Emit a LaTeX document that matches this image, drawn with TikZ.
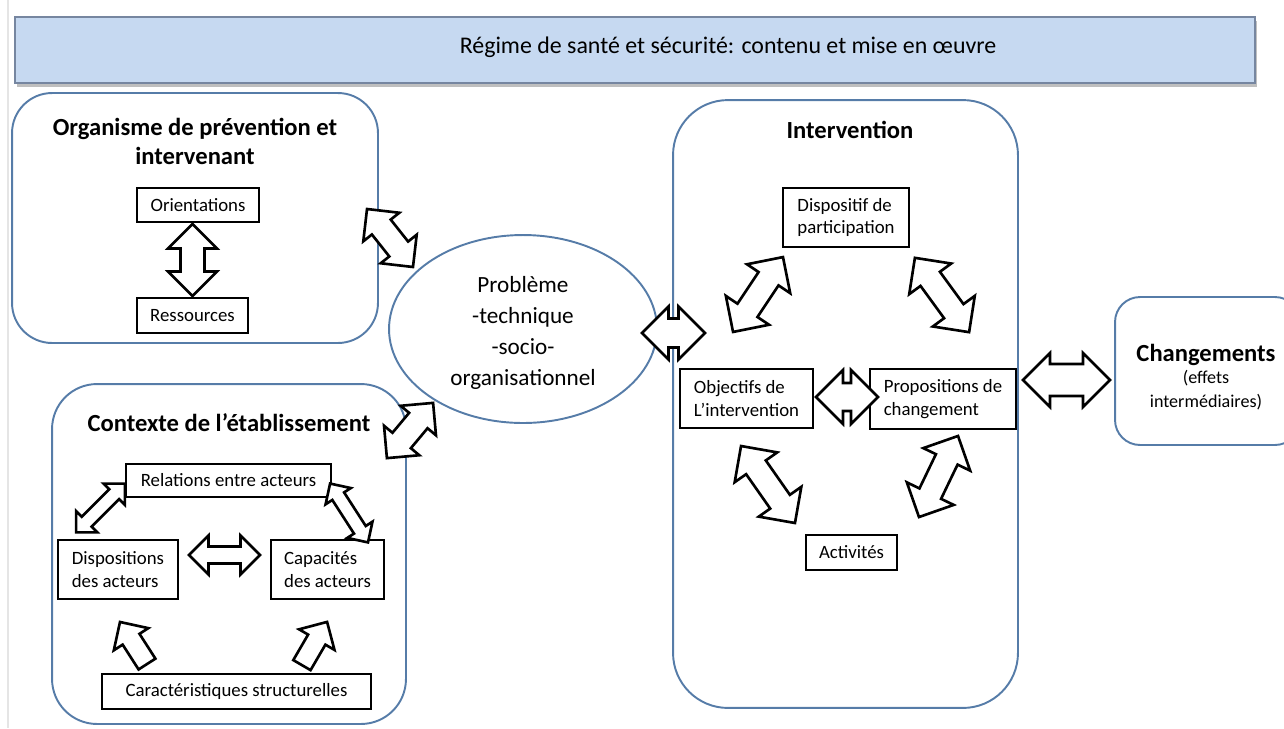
\documentclass[tikz,border=0pt]{standalone}
\usepackage{fontspec}
\setmainfont{Carlito}
\usetikzlibrary{shapes.geometric,positioning,calc,shadows}
\definecolor{boxblue}{RGB}{86,124,168}
\definecolor{bannerblue}{RGB}{198,217,241}
\definecolor{bannerline}{RGB}{118,134,160}

\tikzset{
    arrowline/.style={draw=black, line width=1.5pt, fill=white, line join=miter},
    % double block arrow: half length, half shaft, half head
    pics/dblarrow/.style n args={3}{code={
        \draw[arrowline] (-#1,0) -- (-#1+#3,#3) -- (-#1+#3,#2) -- (#1-#3,#2) -- (#1-#3,#3) -- (#1,0)
            -- (#1-#3,-#3) -- (#1-#3,-#2) -- (-#1+#3,-#2) -- (-#1+#3,-#3) -- cycle;
    }},
    % single block arrow, tip on +x
    pics/onearrow/.style n args={3}{code={
        \draw[arrowline] (-#1,-#2) -- (#1-#3,-#2) -- (#1-#3,-#3) -- (#1,0) -- (#1-#3,#3) -- (#1-#3,#2)
            -- (-#1,#2) -- cycle;
    }}
}

\begin{document}
\begin{tikzpicture}[x=0.02cm, y=-0.02cm,
    bluebox/.style={rectangle, draw=boxblue, line width=1.1pt, rounded corners=0.8cm},
    smallbox/.style={rectangle, draw=black, line width=1.2pt, fill=white, inner sep=0.1cm, font=\fontsize{10.7}{13}\selectfont},
    title/.style={font=\fontsize{14}{16.5}\selectfont\bfseries, align=center},
    slim/.style={line width=1.3pt}
]
\path[use as bounding box, clip] (0,0) rectangle (1284,728);
\draw[gray!20, line width=1pt] (8,0) -- (8,728);

% Banner
\node[rectangle, fill=bannerblue, draw=bannerline, line width=1.5pt, minimum width=24.8cm, minimum height=1.32cm,
      drop shadow={shadow xshift=0.04cm, shadow yshift=-0.08cm, opacity=0.5}] (banner) at (635,50) {};
\node[font=\fontsize{13.6}{16}\selectfont] (bannertext) at (728,47) {Régime de santé et sécurité: contenu et mise en œuvre};

% Organisme de prevention
\node[bluebox, minimum width=7.32cm, minimum height=5cm] (org) at (195,218) {};
\node[title] (orgtitle) at (195,141) {Organisme de prévention et\\intervenant};
\node[smallbox, minimum width=2.44cm, minimum height=0.68cm] (orient) at (198,205) {Orientations};
\node[smallbox, minimum width=2.22cm, minimum height=0.7cm] (ress) at (192.5,315.5) {Ressources};

% Probleme
\node[ellipse, draw=boxblue, line width=1.1pt, minimum width=5.36cm, minimum height=3.76cm, align=center,
      font=\fontsize{13.2}{17.6}\selectfont] (prob) at (523,329) {};
\node[align=center, font=\fontsize{13.2}{17.6}\selectfont] (probtext) at (523,333) {Problème\\-technique\\-socio-\\organisationnel};

% Contexte de l'etablissement
\node[bluebox, rounded corners=0.9cm, minimum width=7.08cm, minimum height=6.8cm] (ctx) at (229,554) {};
\node[title] (ctxtitle) at (229,423) {Contexte de l’établissement};
\node[smallbox, minimum width=4.1cm, minimum height=0.66cm] (rel) at (228.5,480.5) {Relations entre acteurs};
\node[smallbox, minimum width=2.4cm, minimum height=1.18cm, align=left] (dispo) at (118,569.5) {Dispositions\\des acteurs};
\node[smallbox, minimum width=2.26cm, minimum height=1.18cm, align=left] (capa) at (327.5,569.5) {Capacités\\des acteurs};
\node[smallbox, minimum width=5.38cm, minimum height=0.7cm] (carac) at (236.5,691.5) {Caractéristiques structurelles};

% Intervention
\node[bluebox, rounded corners=1.1cm, minimum width=6.9cm, minimum height=12.16cm] (interv) at (845.5,404) {};
\node[title] (intervtitle) at (850,130) {Intervention};
\node[smallbox, minimum width=2.52cm, minimum height=1.18cm, align=left] (disp) at (846,217.5) {Dispositif de\\participation};
\node[smallbox, minimum width=2.66cm, minimum height=1.18cm, align=left] (obj) at (746.5,398.5) {Objectifs de\\L’intervention};
\node[smallbox, minimum width=2.92cm, minimum height=1.2cm, align=left] (prop) at (943,399) {Propositions de\\changement};
\node[smallbox, minimum width=1.82cm, minimum height=0.7cm] (act) at (851.5,552.5) {Activités};

% Changements
\node[bluebox, rounded corners=0.5cm, minimum width=3.7cm, minimum height=2.96cm] (chg) at (1207.5,371) {};
\node[title] (chgtitle) at (1206,355) {Changements};
\node[align=center, font=\fontsize{10.3}{13.6}\selectfont] (chgnote) at (1206,390) {(effets\\intermédiaires)};

% Block arrows
\path (ress.north |- orient.south) -- (ress.north) pic[pos=0.5, rotate=90] {dblarrow={36}{12}{24.5}};
\path ($(org)+(172,-9)$) -- ($(prob)+(-110,-62)$) pic[pos=0.5, rotate=-51.6] {dblarrow={37}{12}{23}};
\path ($(prob.east)+(-15,4)$) -- ($(interv.west)+(32,-71)$) pic[pos=0.5] {dblarrow={31.5}{14.5}{26.5}};
\path ($(ctx)+(158,-96)$) -- ($(prob)+(-90,74)$) pic[pos=0.5, rotate=50.1] {dblarrow={36}{12}{23}};
\path ($(rel.west)+(0,3.5)$) -- ($(dispo.north west)+(19,-7)$) pic[pos=0.5, rotate=45, slim] {dblarrow={34.5}{7}{15}};
\path ($(rel.east)+(-2,3.5)$) -- ($(capa.north east)+(-17,3)$) pic[pos=0.5, rotate=-57.2, slim] {dblarrow={35}{7}{15}};
\path ($(dispo.east)+(11,-14.5)$) -- ($(capa.west)+(-11,-14.5)$) pic[pos=0.5] {dblarrow={35.5}{8.5}{19.5}};
\path ($(carac.north)+(-89.5,-10)$) -- ($(dispo.south)+(2,23)$) pic[pos=0.5, rotate=122.7] {onearrow={25}{10}{20.5}};
\path ($(carac.north)+(65.5,-9)$) -- ($(capa.south)+(-0.5,23)$) pic[pos=0.5, rotate=59.8] {onearrow={25}{10}{20.5}};
\path ($(obj.north)+(-13.5,-37)$) -- ($(disp.south)+(-63,10)$) pic[pos=0.5, rotate=56.3] {dblarrow={45}{12}{26}};
\path ($(disp.south)+(69,11)$) -- ($(prop.north)+(26,-37)$) pic[pos=0.5, rotate=-53.9] {dblarrow={46}{12}{26}};
\path ($(obj.south)+(-5.5,18)$) -- ($(act.north)+(-56.5,-12)$) pic[pos=0.5, rotate=-55] {dblarrow={47}{12}{26}};
\path ($(prop.south)+(15,7)$) -- ($(act.north)+(67.5,-18)$) pic[pos=0.5, rotate=64.3] {dblarrow={45}{12}{26}};
\path ($(obj.east)+(3,-1.5)$) -- ($(prop.west)+(8,-2)$) pic[pos=0.5] {dblarrow={31}{14}{27}};
\path ($(interv.east)+(5,-24)$) -- ($(chg.west)+(-5,9)$) pic[pos=0.5] {dblarrow={43.5}{16}{27}};

\end{tikzpicture}
\end{document}
